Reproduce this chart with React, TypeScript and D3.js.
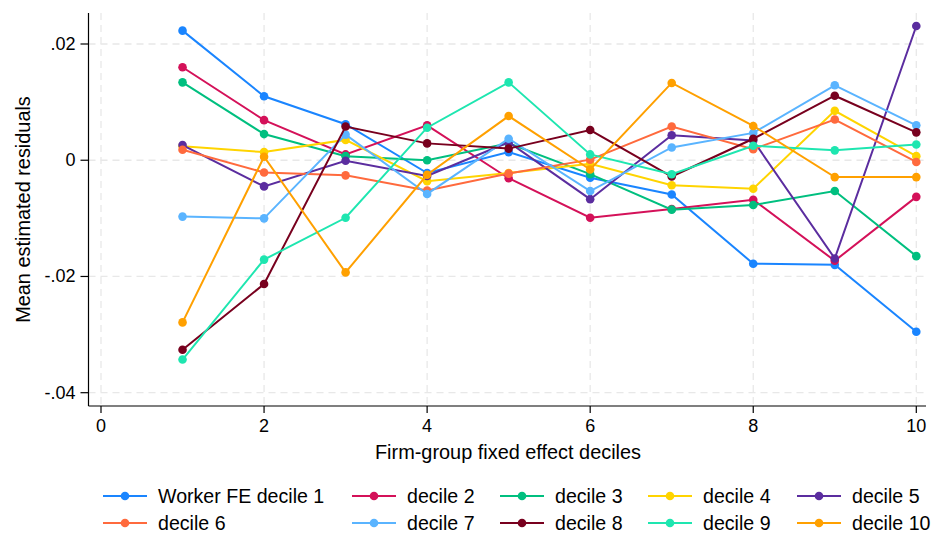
import * as d3 from "d3";

// firm-group fixed effect deciles (x)
const deciles = [1, 2, 3, 4, 5, 6, 7, 8, 9, 10];

// mean estimated residuals, one array per worker FE decile
const workerDecile1 = [0.0223, 0.011, 0.0062, -0.0022, 0.0014, -0.003, -0.0059, -0.0178, -0.018, -0.0295];
const workerDecile2 = [0.016, 0.0069, 0.001, 0.006, -0.0031, -0.0099, -0.0084, -0.0068, -0.0173, -0.0063];
const workerDecile3 = [0.0134, 0.0045, 0.0007, 0.0, 0.0029, -0.0024, -0.0085, -0.0077, -0.0053, -0.0165];
const workerDecile4 = [0.0024, 0.0014, 0.0035, -0.0036, -0.0022, -0.0006, -0.0043, -0.0049, 0.0085, 0.0007];
const workerDecile5 = [0.0026, -0.0045, -0.0001, -0.0027, 0.0031, -0.0067, 0.0043, 0.0034, -0.0169, 0.0231];
const workerDecile6 = [0.0018, -0.0021, -0.0026, -0.0052, -0.0023, 0.0001, 0.0058, 0.0019, 0.007, -0.0003];
const workerDecile7 = [-0.0097, -0.01, 0.0044, -0.0058, 0.0037, -0.0053, 0.0022, 0.0047, 0.0129, 0.006];
const workerDecile8 = [-0.0326, -0.0213, 0.0058, 0.0029, 0.002, 0.0052, -0.0028, 0.0037, 0.0111, 0.0048];
const workerDecile9 = [-0.0343, -0.0171, -0.0099, 0.0056, 0.0134, 0.001, -0.0024, 0.0025, 0.0017, 0.0027];
const workerDecile10 = [-0.0279, 0.0006, -0.0193, -0.0025, 0.0076, -0.0016, 0.0133, 0.0059, -0.0029, -0.0029];

const seriesLabels = [
  "Worker FE decile 1", "decile 2", "decile 3", "decile 4", "decile 5",
  "decile 6", "decile 7", "decile 8", "decile 9", "decile 10",
];
const seriesValues = [
  workerDecile1, workerDecile2, workerDecile3, workerDecile4, workerDecile5,
  workerDecile6, workerDecile7, workerDecile8, workerDecile9, workerDecile10,
];

const xTicks = [0, 2, 4, 6, 8, 10];
const yTicks = [0.02, 0, -0.02, -0.04];

const colors = [
  "#1a85ff", "#d41159", "#00bf7f", "#ffd400", "#5b2d9f",
  "#ff6a3d", "#5ab4ff", "#78001e", "#1ee6b0", "#ffa000",
];

const FONT = "'Liberation Sans', Arial, Helvetica, sans-serif";

// Stata-style labels: ".02", "0", "-.02" with a plain hyphen
const stataFmt = d3.formatLocale({
  decimal: ".",
  thousands: ",",
  grouping: [3],
  currency: ["", ""],
  minus: "-",
}).format(".2f");

const App = () => {
  const x = d3.scaleLinear().domain([0, 10]).range([101, 916.3]);
  const y = d3.scaleLinear().domain([-0.04, 0.02]).range([392.7, 44]);

  const left = 88.5;
  const right = 926;
  const top = 13;
  const bottom = 406;

  const fmtY = (v: number) => (v === 0 ? "0" : stataFmt(v).replace("0.", "."));

  const line = d3
    .line<number>()
    .x((_, i) => x(deciles[i]))
    .y((d) => y(d));

  // legend columns: first column is wider because of its longer label
  const legendCols = [103, 352, 500, 648, 797];
  const legendRows = [496, 523];

  return (
    <svg
      width={933}
      height={540}
      style={{ position: "absolute", left: 0, top: 0, background: "#fff" }}
      fontFamily={FONT}
    >
      <rect width={933} height={540} fill="#fff" />

      {/* grid */}
      <g stroke="#e8e8e8" strokeWidth={1.3} strokeDasharray="7 5" fill="none">
        {xTicks.map((t) => (
          <line key={"gx" + t} x1={x(t)} x2={x(t)} y1={top} y2={bottom} />
        ))}
        {yTicks.map((t) => (
          <line key={"gy" + t} x1={left} x2={right} y1={y(t)} y2={y(t)} />
        ))}
      </g>

      {/* axes */}
      <g stroke="#000" strokeWidth={1.2}>
        <line x1={left} x2={left} y1={top} y2={bottom} />
        <line x1={left} x2={right} y1={bottom} y2={bottom} />
        {yTicks.map((t) => (
          <line key={"ty" + t} x1={left - 8} x2={left} y1={y(t)} y2={y(t)} />
        ))}
        {xTicks.map((t) => (
          <line key={"tx" + t} x1={x(t)} x2={x(t)} y1={bottom} y2={bottom + 7} />
        ))}
      </g>
      <g fontSize={18} fill="#000">
        {yTicks.map((t) => (
          <text key={"ly" + t} x={left - 13} y={y(t)} textAnchor="end" dominantBaseline="central">
            {fmtY(t)}
          </text>
        ))}
        {xTicks.map((t) => (
          <text key={"lx" + t} x={x(t)} y={426} textAnchor="middle" dominantBaseline="central">
            {t}
          </text>
        ))}
      </g>
      <text x={508} y={452} fontSize={19.9} textAnchor="middle" dominantBaseline="central">
        Firm-group fixed effect deciles
      </text>
      <text
        transform={`translate(23, ${(top + bottom) / 2}) rotate(-90)`}
        fontSize={19.9}
        textAnchor="middle"
        dominantBaseline="central"
      >
        Mean estimated residuals
      </text>

      {/* series */}
      {seriesValues.map((vals, s) => (
        <g key={"s" + s}>
          <path d={line(vals) || ""} fill="none" stroke={colors[s]} strokeWidth={2} />
          {vals.map((v, i) => (
            <circle key={i} cx={x(deciles[i])} cy={y(v)} r={4.3} fill={colors[s]} />
          ))}
        </g>
      ))}

      {/* legend */}
      {seriesLabels.map((lab, s) => {
        const lx = legendCols[s % 5];
        const ly = legendRows[Math.floor(s / 5)];
        return (
          <g key={"lg" + s}>
            <line x1={lx} x2={lx + 44} y1={ly} y2={ly} stroke={colors[s]} strokeWidth={2} />
            <circle cx={lx + 22} cy={ly} r={4.3} fill={colors[s]} />
            <text x={lx + 55} y={ly} fontSize={19.6} dominantBaseline="central">
              {lab}
            </text>
          </g>
        );
      })}
    </svg>
  );
};

export default App;
